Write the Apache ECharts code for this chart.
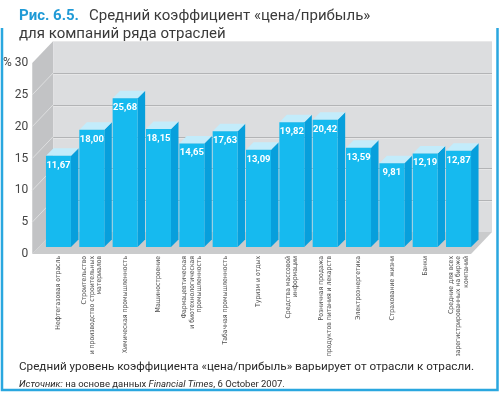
<!DOCTYPE html>
<html>
<head>
<meta charset="utf-8">
<script src="https://cdn.jsdelivr.net/npm/echarts@6/dist/echarts.min.js"></script>
<style>html,body{margin:0;padding:0;background:#fff;}#c{width:500px;height:393px;}</style>
</head>
<body>
<div id="c"></div>
<script>
const categories = [
  'Нефтегазовая отрасль',
  'Строительство\nи производство строительных\nматериалов',
  'Химическая промышленность',
  'Машиностроение',
  'Фармацевтическая\nи биотехнологическая\nпромышленность',
  'Табачная промышленность',
  'Туризм и отдых',
  'Средства массовой\nинформации',
  'Розничная продажа\nпродуктов питания и лекарств',
  'Электроэнергетика',
  'Страхование жизни',
  'Банки',
  'Средние для всех\nзарегистрированных на бирже\nкомпаний'
];
const peValues = [11.67, 18.00, 25.68, 18.15, 14.65, 17.63, 13.09, 19.82, 20.42, 13.59, 9.81, 12.19, 12.87];
const axisMin = 0, axisMax = 30, axisStep = 5;
// the drawing's bars stand on a raised base (as in the original illustration)
const barBaseMin = -10.6;

const FRONT = '#16baef', SIDE = '#079fdc', TOP = '#c3ecfb';
const DX = 21, DY = -22, D = 7.5;

function fmt(v) { return v.toFixed(2).replace('.', ','); }

function renderWall(params, api) {
  const p = (x, v) => api.coord([x, v]);
  const L0 = p(0, axisMin), L30 = p(0, axisMax), R0 = p(1, axisMin);
  const ch = [];
  ch.push({ type: 'polygon', shape: { points: [L0, [L0[0] + DX, L0[1] + DY], [R0[0] + DX, R0[1] + DY], R0] }, style: { fill: '#cacbcc' } });
  ch.push({ type: 'polygon', shape: { points: [L0, L30, [L30[0] + DX, L30[1] + DY], [L0[0] + DX, L0[1] + DY]] }, style: { fill: '#c2c3c5' } });
  ch.push({ type: 'rect', shape: { x: L30[0] + DX, y: L30[1] + DY, width: R0[0] - L0[0], height: L0[1] - L30[1] }, style: { fill: '#dcdddf' } });
  ch.push({ type: 'line', shape: { x1: L30[0] + DX, y1: L30[1] + DY + 0.5, x2: R0[0] + DX, y2: L30[1] + DY + 0.5 }, style: { stroke: '#e8e8e9', lineWidth: 1 } });
  for (let v = axisMin + axisStep; v < axisMax; v += axisStep) {
    const a = p(0, v), b = p(1, v);
    ch.push({ type: 'line', shape: { x1: a[0], y1: a[1], x2: a[0] + DX, y2: a[1] + DY }, style: { stroke: '#dedfe0', lineWidth: 1 } });
    ch.push({ type: 'line', shape: { x1: a[0] + DX, y1: Math.round(a[1] + DY) + 0.5, x2: b[0] + DX, y2: Math.round(b[1] + DY) + 0.5 }, style: { stroke: '#b3b4b6', lineWidth: 1 } });
    ch.push({ type: 'line', shape: { x1: a[0] + DX, y1: Math.round(a[1] + DY) + 1.5, x2: b[0] + DX, y2: Math.round(b[1] + DY) + 1.5 }, style: { stroke: '#e6e6e7', lineWidth: 1 } });
  }
  return { type: 'group', children: ch };
}

function renderBar(params, api) {
  const i = api.value(0), v = api.value(1);
  const top = api.coord([i, v]);
  const base = api.coord([i, barBaseMin]);
  const bw = api.size([1, 0])[0] * 0.75;
  const x0 = top[0] - bw / 2, x1 = top[0] + bw / 2, yT = top[1], yB = base[1];
  return {
    type: 'group', children: [
      { type: 'polygon', shape: { points: [[x1, yT], [x1 + D, yT - D], [x1 + D, yB - D], [x1, yB]] }, style: { fill: SIDE } },
      { type: 'polygon', shape: { points: [[x0, yT], [x0 + D, yT - D], [x1 + D, yT - D], [x1, yT]] }, style: { fill: TOP } },
      { type: 'rect', shape: { x: x0, y: yT, width: bw, height: yB - yT }, style: { fill: FRONT } },
      { type: 'text', style: { text: fmt(v), x: top[0], y: yT + 9.5, align: 'center', verticalAlign: 'middle', fill: '#ffffff', fontFamily: 'Roboto', fontWeight: 'bold', fontSize: 9.5 } }
    ]
  };
}

const chart = echarts.init(document.getElementById('c'), null, { renderer: 'canvas' });
chart.setOption({
  animation: false,
  backgroundColor: '#ffffff',
  title: [
    {
      left: 14, top: 2,
      text: '{a|Рис. 6.5.}  {b|Средний коэффициент «цена/прибыль»}\n{b|для компаний ряда отраслей}',
      textStyle: {
        fontWeight: 'normal',
        rich: {
          a: { fontFamily: 'Roboto', fontSize: 15, fontWeight: 'bold', color: '#1f9ad6', lineHeight: 18 },
          b: { fontFamily: 'Roboto', fontSize: 15, fontWeight: 'normal', color: '#3a3a3a', lineHeight: 18 }
        }
      }
    },
    {
      left: 14, top: 354,
      text: 'Средний уровень коэффициента «цена/прибыль» варьирует от отрасли к отрасли.',
      textStyle: { fontFamily: 'Roboto', fontSize: 11.7, fontWeight: 'normal', color: '#2a2a2a', lineHeight: 16 }
    },
    {
      left: 14, top: 374,
      text: '{i|Источник:} {n|на основе данных} {i|Financial Times}{n|, 6 October 2007.}',
      textStyle: {
        fontWeight: 'normal', fontSize: 9.5, fontFamily: 'Roboto',
        rich: {
          i: { fontFamily: 'Roboto', fontSize: 9.5, fontStyle: 'italic', fontWeight: 'normal', color: '#2a2a2a', lineHeight: 12 },
          n: { fontFamily: 'Roboto', fontSize: 9.5, fontWeight: 'normal', color: '#2a2a2a', lineHeight: 12 }
        }
      }
    }
  ],
  graphic: [
    { type: 'polyline', shape: { points: [[2, 28], [2, 390], [497.5, 390], [497.5, 28]] }, style: { stroke: '#2aa7df', lineWidth: 2.5, fill: null }, z: 10 }
  ],
  grid: [
    { left: 30, right: 29, top: 63, bottom: 139 },
    { left: 41.8, right: 24.8, top: 80.5, bottom: 146 }
  ],
  xAxis: [
    { type: 'value', gridIndex: 0, min: 0, max: 1, show: false },
    {
      type: 'category', gridIndex: 1, data: categories,
      axisLine: { show: false }, axisTick: { show: false },
      axisLabel: {
        interval: 0, rotate: 90, margin: 9,
        fontFamily: '"DejaVu Sans Condensed", "Liberation Sans Narrow", "Liberation Sans", sans-serif',
        fontSize: 6.8, lineHeight: 7.5, color: '#505050',
        padding: [0, 0, 7, 0]
      }
    }
  ],
  yAxis: [
    {
      type: 'value', gridIndex: 0, min: axisMin, max: axisMax, interval: axisStep,
      axisLine: { show: false }, axisTick: { show: false }, splitLine: { show: false },
      axisLabel: {
        margin: 4, fontFamily: 'Roboto', fontSize: 12, color: '#444444',
        formatter: v => (v === axisMax ? '% ' + v : String(v))
      }
    },
    { type: 'value', gridIndex: 1, min: barBaseMin, max: axisMax, show: false }
  ],
  series: [
    { type: 'custom', xAxisIndex: 0, yAxisIndex: 0, z: 1, silent: true, data: [[0, 0]], renderItem: renderWall },
    {
      type: 'custom', xAxisIndex: 1, yAxisIndex: 1, z: 3, silent: true,
      data: peValues.map((v, i) => [i, v]), encode: { x: 0, y: 1 }, renderItem: renderBar
    }
  ]
});
</script>
</body>
</html>
